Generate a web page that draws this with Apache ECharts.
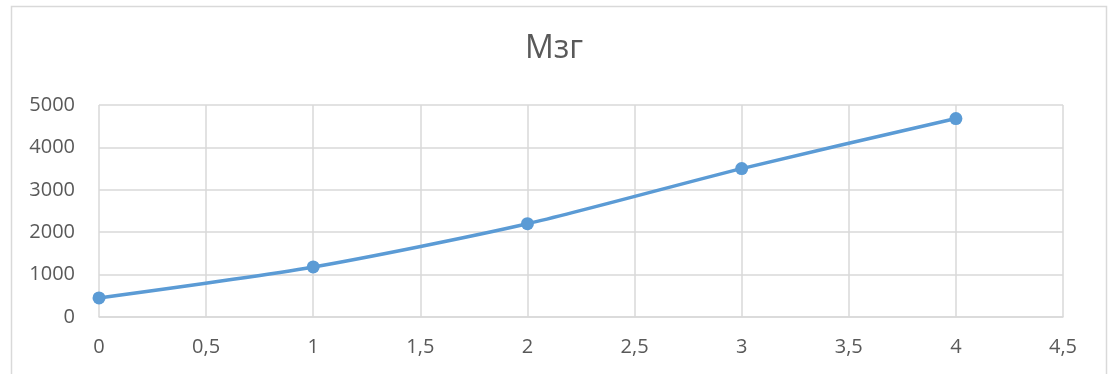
<!DOCTYPE html>
<html>
<head>
<meta charset="utf-8">
<style>
  html, body { margin: 0; padding: 0; background: #ffffff; }
  #chart { width: 1108px; height: 374px; }
</style>
<script src="https://cdn.jsdelivr.net/npm/echarts@6/dist/echarts.min.js"></script>
</head>
<body>
<div id="chart"></div>
<script>
// Chart title and series values
const chartTitle = 'Мзг';
const xValues = [0, 1, 2, 3, 4];
const yValues = [450, 1180, 2200, 3500, 4680];

// Axis ranges and tick steps
const xAxisMin = 0, xAxisMax = 4.5, xAxisStep = 0.5;
const yAxisMin = 0, yAxisMax = 5000, yAxisStep = 1000;

const textColor = '#595959';
const gridColor = '#d9d9d9';
const lineColor = '#5b9bd5';
const fontFamily = '"Open Sans", "Noto Sans", sans-serif';

const chart = echarts.init(document.getElementById('chart'), null, { renderer: 'canvas' });

chart.setOption({
  animation: false,
  backgroundColor: '#ffffff',
  title: {
    text: chartTitle,
    left: 'center',
    top: 28,
    textStyle: { color: textColor, fontSize: 32, fontWeight: 'normal', fontFamily: fontFamily }
  },
  graphic: [{
    type: 'rect',
    shape: { x: 11.5, y: 6.5, width: 1095, height: 400 },
    style: { fill: 'none', stroke: '#d9d9d9', lineWidth: 1.5 },
    silent: true,
    z: -1
  }],
  grid: { left: 99, right: 45, top: 105, bottom: 57 },
  xAxis: {
    type: 'value',
    min: xAxisMin,
    max: xAxisMax,
    interval: xAxisStep,
    axisLine: { show: true, lineStyle: { color: gridColor, width: 1.5 } },
    axisTick: { show: false },
    splitLine: { show: true, lineStyle: { color: gridColor, width: 1.5 } },
    axisLabel: {
      color: textColor,
      fontSize: 20,
      fontFamily: fontFamily,
      margin: 20,
      formatter: v => String(v).replace('.', ',')
    }
  },
  yAxis: {
    type: 'value',
    min: yAxisMin,
    max: yAxisMax,
    interval: yAxisStep,
    axisLine: { show: false },
    axisTick: { show: false },
    splitLine: { show: true, lineStyle: { color: gridColor, width: 1.5 } },
    axisLabel: {
      color: textColor,
      fontSize: 20,
      fontFamily: fontFamily,
      margin: 24,
      formatter: v => String(v)
    }
  },
  series: [{
    type: 'line',
    data: xValues.map((x, i) => [x, yValues[i]]),
    smooth: 0.25,
    symbol: 'circle',
    symbolSize: 13,
    lineStyle: { color: lineColor, width: 3.5 },
    itemStyle: { color: lineColor }
  }]
});
</script>
</body>
</html>
